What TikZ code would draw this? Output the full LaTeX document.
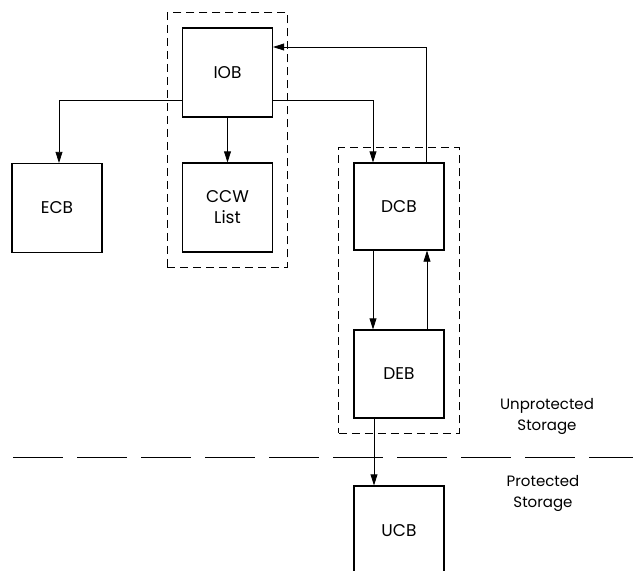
\documentclass[tikz,border=0pt]{standalone}
\usepackage{fontspec}
\setmainfont{Poppins}
\usetikzlibrary{arrows.meta,fit}
\begin{document}
\begin{tikzpicture}[x=1pt,y=-1pt,
  blk/.style={draw,line width=1.3pt,minimum width=90pt,minimum height=89pt,inner sep=0pt,font=\fontsize{17}{21}\selectfont,align=center},
  conn/.style={line width=0.8pt},
  arr/.style={conn,-{Triangle[length=11pt,width=7pt]}},
  grp/.style={draw,line width=0.9pt,dash pattern=on 8pt off 5pt,inner sep=14.5pt},
  sep/.style={line width=1pt,dash pattern=on 50pt off 14pt,dash phase=51pt},
  lbl/.style={font=\fontsize{15}{21}\selectfont,align=center}]
\clip (0,0) rectangle (633,571);
\node[blk] (IOB) at (227.5,72.5) {IOB};
\node[blk] (CCW) at (227.5,207.5) {CCW\\List};
\node[blk] (ECB) at (57,208) {ECB};
\node[blk,minimum height=87pt] (DCB) at (399,206.5) {DCB};
\node[blk,minimum height=88pt] (DEB) at (399,374) {DEB};
\node[blk,minimum height=90pt] (UCB) at (399,531) {UCB};
\node[grp,fit=(IOB)(CCW)] (G1) {};
\node[grp,fit=(DCB)(DEB)] (G2) {};
\coordinate (L) at (0,457.5);
\coordinate (R) at (633,457.5);
\draw[sep] (L) -- (R);
\draw[arr] ([yshift=17pt]IOB.south west) -| ([xshift=2pt]ECB.north);
\draw[arr] (IOB.south) -- (CCW.north);
\draw[arr] ([yshift=17pt]IOB.south east) -| ([xshift=-26pt]DCB.north);
\draw[arr] ([xshift=27pt]DCB.north) |- ([yshift=25.5pt]IOB.east);
\draw[arr] ([xshift=-26pt]DCB.south) -- ([xshift=-26pt]DEB.north);
\draw[arr] ([xshift=28pt]DEB.north) -- ([xshift=28pt]DCB.south);
\draw[arr] ([xshift=-25pt]DEB.south) -- ([xshift=-25pt]UCB.north);
\node[lbl] (U) at (547,416) {Unprotected\\Storage};
\node[lbl] (P) at (543,493) {Protected\\Storage};
\end{tikzpicture}
\end{document}
